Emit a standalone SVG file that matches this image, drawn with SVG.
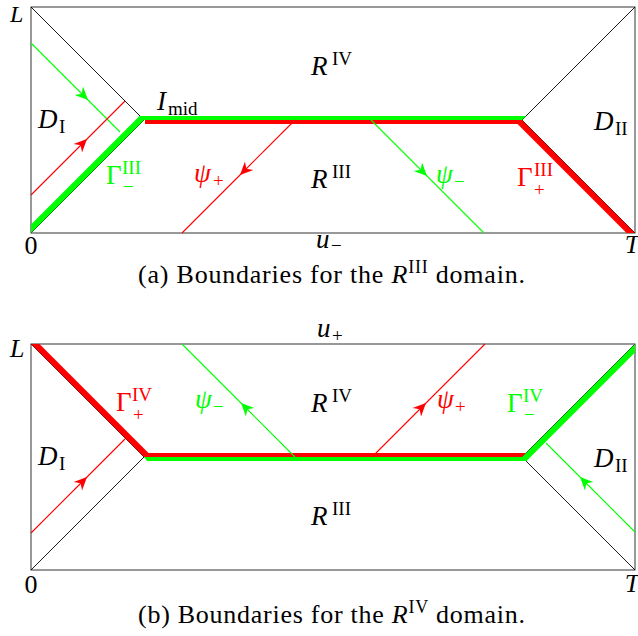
<svg xmlns="http://www.w3.org/2000/svg" width="638" height="636" viewBox="0 0 638 636">
<style>
text{font-family:"Liberation Serif","Times New Roman",serif;fill:#000}
.m{font-size:27px}
.it{font-style:italic}
.s{font-size:19px}
.tick{font-size:26px}
.cap{font-size:26px}
.frame{fill:none;stroke:#333;stroke-width:1}
.thin{stroke:#000;stroke-width:0.9;fill:none}
.r{fill:#ff0000}
.g{fill:#00ff00}
.lr{stroke:#ff0000;stroke-width:1.1;fill:none;marker-mid:url(#ar)}
.lg{stroke:#00ff00;stroke-width:1.1;fill:none;marker-mid:url(#ag)}
</style>
<defs>
<marker id="ar" viewBox="-15 -7 16 14" markerWidth="16" markerHeight="14" refX="0" refY="0" orient="auto" markerUnits="userSpaceOnUse"><path d="M0,0 L-13,-6 L-9,0 L-13,6 Z" fill="#ff0000"/></marker>
<marker id="ag" viewBox="-15 -7 16 14" markerWidth="16" markerHeight="14" refX="0" refY="0" orient="auto" markerUnits="userSpaceOnUse"><path d="M0,0 L-13,-6 L-9,0 L-13,6 Z" fill="#00ff00"/></marker>
</defs>

<g id="panel-a">
<g id="a-frame">
<rect class="frame" x="31" y="7" width="604" height="226"/>
<path class="thin" d="M31,7 L144,120 L31,233 M635,7 L522,120 L635,233"/>
</g>
<g id="a-boundaries">
<polygon id="a-gamma-minus" class="g" points="31,224.5 139.5,116 526,116 522,120 144,120 31,233"/>
<polygon id="a-gamma-plus" class="r" points="145,120 522,120 635,233 626.5,233 517.5,124 145,124"/>
</g>
<g id="a-connectors">
<polyline class="lg" points="31,43 88,100 120,132"/>
<polyline class="lr" points="31,195 87,139 125,101"/>
<polyline class="lr" points="295,120 240,175 182,233"/>
<polyline class="lg" points="371,120 427,176 484,233"/>
</g>
<g id="a-labels">
<g id="a-L"><text class="it" font-size="24" x="10" y="22">L</text></g>
<g id="a-0"><text class="tick" x="31" y="254" text-anchor="middle">0</text></g>
<g id="a-T"><text class="tick it" x="632" y="253" text-anchor="middle">T</text></g>
<g id="a-u"><text class="m it" x="316" y="248">u</text><text class="s" x="331" y="252">−</text></g>
<g id="a-R4"><text class="m it" x="311" y="75">R</text><text class="s" x="332" y="65">IV</text></g>
<g id="a-R3"><text class="m it" x="311" y="188">R</text><text class="s" x="332" y="178">III</text></g>
<g id="a-Imid"><text class="m it" x="157" y="110">I</text><text class="s" x="168" y="115">mid</text></g>
<g id="a-D1"><text class="m it" x="38" y="128">D</text><text class="s" x="59" y="133">I</text></g>
<g id="a-D2"><text class="m it" x="594" y="130">D</text><text class="s" x="615" y="135">II</text></g>
<g id="a-Gm"><text class="m g" x="106" y="184">Γ</text><text class="s g" x="122" y="174">III</text><text class="s g" x="123" y="193">−</text></g>
<g id="a-psip"><text class="m it r" x="194" y="182">ψ</text><text class="s r" x="213" y="187">+</text></g>
<g id="a-psim"><text class="m it g" x="436" y="183">ψ</text><text class="s g" x="454" y="188">−</text></g>
<g id="a-Gp"><text class="m r" x="517" y="186">Γ</text><text class="s r" x="534" y="176">III</text><text class="s r" x="534" y="196">+</text></g>
</g>
<g id="a-caption"><text class="cap" x="138" y="283" textLength="387" lengthAdjust="spacing">(a) Boundaries for the <tspan class="it">R</tspan><tspan font-size="18" dy="-10">III</tspan><tspan dy="10"> domain.</tspan></text></g>
</g>

<g id="panel-b">
<g id="b-frame">
<rect class="frame" x="31" y="344" width="604" height="226"/>
<path class="thin" d="M31,344 L144,457 L31,570 M635,344 L522,457 L635,570"/>
</g>
<g id="b-boundaries">
<polygon id="b-gamma-plus" class="r" points="31,344 39.5,344 148.5,453 526,453 522,457 144,457"/>
<polygon id="b-gamma-minus" class="g" points="144,457 522,457 635,344 635,352.5 526.5,461 147,461"/>
</g>
<g id="b-connectors">
<polyline class="lr" points="31,533 87,477 125,439"/>
<polyline class="lg" points="295,457 241,403 182,344"/>
<polyline class="lr" points="372,457 426,403 485,344"/>
<polyline class="lg" points="635,532 580,477 546,443"/>
</g>
<g id="b-labels">
<g id="b-L"><text class="tick it" x="10" y="357">L</text></g>
<g id="b-0"><text class="tick" x="31" y="593" text-anchor="middle">0</text></g>
<g id="b-T"><text class="tick it" x="632" y="592" text-anchor="middle">T</text></g>
<g id="b-u"><text class="m it" x="317" y="337">u</text><text class="s" x="332" y="342">+</text></g>
<g id="b-R4"><text class="m it" x="311" y="412">R</text><text class="s" x="332" y="402">IV</text></g>
<g id="b-R3"><text class="m it" x="311" y="525">R</text><text class="s" x="332" y="515">III</text></g>
<g id="b-D1"><text class="m it" x="38" y="465">D</text><text class="s" x="59" y="470">I</text></g>
<g id="b-D2"><text class="m it" x="594" y="467">D</text><text class="s" x="615" y="472">II</text></g>
<g id="b-Gp"><text class="m r" x="116" y="411">Γ</text><text class="s r" x="132" y="401">IV</text><text class="s r" x="133" y="421">+</text></g>
<g id="b-psim"><text class="m it g" x="195" y="408">ψ</text><text class="s g" x="213" y="413">−</text></g>
<g id="b-psip"><text class="m it r" x="437" y="408">ψ</text><text class="s r" x="455" y="413">+</text></g>
<g id="b-Gm"><text class="m g" x="507" y="412">Γ</text><text class="s g" x="523" y="402">IV</text><text class="s g" x="524" y="421">−</text></g>
</g>
<g id="b-caption"><text class="cap" x="138" y="623" textLength="387" lengthAdjust="spacing">(b) Boundaries for the <tspan class="it">R</tspan><tspan font-size="18" dy="-10">IV</tspan><tspan dy="10"> domain.</tspan></text></g>
</g>
</svg>
